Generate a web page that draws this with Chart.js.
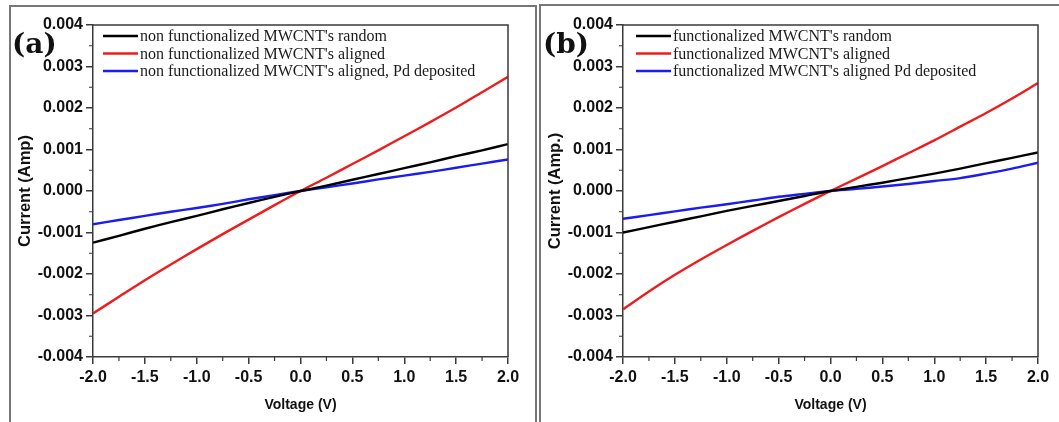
<!DOCTYPE html>
<html>
<head>
<meta charset="utf-8">
<script src="https://cdn.jsdelivr.net/npm/chart.js@4.4.1/dist/chart.umd.min.js"></script>
<style>
  html, body { margin: 0; padding: 0; background: #ffffff; }
  #wrap { position: relative; width: 1059px; height: 422px; overflow: hidden; }
  canvas { position: absolute; top: 0; }
  #ca { left: 0; }
  #cb { left: 537px; }
</style>
</head>
<body>
<div id="wrap">
  <canvas id="ca" width="537" height="422"></canvas>
  <canvas id="cb" width="522" height="422"></canvas>
</div>
<script>
// ---------- data ----------
const voltage = [-2, -1.75, -1.5, -1.25, -1, -0.75, -0.5, -0.25, 0, 0.25, 0.5, 0.75, 1, 1.25, 1.5, 1.75, 2];

// panel (a): non functionalized
const aLabels = [
  "non functionalized MWCNT's random",
  "non functionalized MWCNT's aligned",
  "non functionalized MWCNT's aligned, Pd deposited"
];
const aRandom  = [-0.001245, -0.00108, -0.00091, -0.00075, -0.0006, -0.00044, -0.00029, -0.00014, 0, 0.00013, 0.00027, 0.00041, 0.00055, 0.00069, 0.00084, 0.00098, 0.00113];
const aAligned = [-0.00295, -0.00255, -0.00215, -0.00177, -0.0014, -0.00104, -0.00069, -0.00034, 0, 0.00032, 0.00065, 0.00098, 0.00132, 0.00166, 0.00201, 0.00238, 0.00275];
const aPd      = [-0.0008, -0.0007, -0.0006, -0.0005, -0.00041, -0.00031, -0.0002, -0.0001, 0, 0.00009, 0.00018, 0.00028, 0.00037, 0.00046, 0.00056, 0.00066, 0.00076];

// panel (b): functionalized
const bLabels = [
  "functionalized MWCNT's random",
  "functionalized MWCNT's aligned",
  "functionalized MWCNT's aligned Pd deposited"
];
const bRandom  = [-0.001, -0.00087, -0.00074, -0.00061, -0.00048, -0.00036, -0.00024, -0.00012, 0, 0.0001, 0.0002, 0.00031, 0.00042, 0.00054, 0.00067, 0.0008, 0.00093];
const bAligned = [-0.00285, -0.00242, -0.00202, -0.00165, -0.0013, -0.00096, -0.00063, -0.00031, 0, 0.0003, 0.0006, 0.00091, 0.00122, 0.00155, 0.00188, 0.00223, 0.0026];
const bPd      = [-0.00067, -0.00058, -0.00049, -0.0004, -0.00032, -0.00023, -0.00014, -0.00007, 0, 0.00005, 0.00011, 0.00017, 0.00024, 0.00031, 0.00042, 0.00054, 0.00068];

const xTitle = "Voltage (V)";
const aYTitle = "Current (Amp)";
const bYTitle = "Current (Amp.)";
const seriesColors = ["#000000", "#ee1c1c", "#1c1cee"];

// ---------- helpers ----------
const AXIS_COLOR = "#3a3a3a";

function pts(ys) { return voltage.map((v, i) => ({ x: v, y: ys[i] })); }

function makeDatasets(labels, arrs) {
  return arrs.map((a, i) => ({
    label: labels[i],
    data: pts(a),
    borderColor: seriesColors[i],
    backgroundColor: seriesColors[i],
    borderWidth: 2.4,
    pointRadius: 0,
    tension: 0.3,
    fill: false
  }));
}

function decorPlugin(cfg) {
  return {
    id: 'decor',
    afterDraw(chart) {
      const ctx = chart.ctx;
      const ca = chart.chartArea;
      const xs = chart.scales.x, ys = chart.scales.y;
      ctx.save();
      // top & right of plot box
      ctx.strokeStyle = AXIS_COLOR;
      ctx.lineWidth = 1.5;
      ctx.beginPath();
      ctx.moveTo(ca.left, ca.top); ctx.lineTo(ca.right, ca.top); ctx.lineTo(ca.right, ca.bottom);
      ctx.stroke();
      // minor ticks
      ctx.lineWidth = 1.2;
      ctx.beginPath();
      const xt = xs.ticks.map(t => t.value);
      for (let i = 0; i < xt.length - 1; i++) {
        const px = xs.getPixelForValue((xt[i] + xt[i + 1]) / 2);
        ctx.moveTo(px, ca.bottom); ctx.lineTo(px, ca.bottom + 4);
      }
      const yt = ys.ticks.map(t => t.value);
      for (let i = 0; i < yt.length - 1; i++) {
        const py = ys.getPixelForValue((yt[i] + yt[i + 1]) / 2);
        ctx.moveTo(ca.left, py); ctx.lineTo(ca.left - 4, py);
      }
      ctx.stroke();
      // panel frame
      ctx.strokeStyle = "#777777";
      ctx.lineWidth = 2;
      ctx.beginPath();
      cfg.frame(ctx, chart.width, chart.height);
      ctx.stroke();
      // panel label
      ctx.fillStyle = "#111111";
      ctx.font = "bold 28px 'DejaVu Serif'";
      ctx.textBaseline = "middle";
      ctx.textAlign = "left";
      ctx.fillText(cfg.panel, cfg.panelX, 46);
      // legend
      ctx.font = "16px 'Liberation Serif'";
      chart.data.datasets.forEach((ds, i) => {
        const y = ca.top + 11 + i * 17.5;
        const x0 = ca.left + cfg.legOff;
        ctx.strokeStyle = ds.borderColor;
        ctx.lineWidth = 2.4;
        ctx.beginPath();
        ctx.moveTo(x0, y); ctx.lineTo(x0 + 35, y);
        ctx.stroke();
        ctx.fillStyle = "#1a1a1a";
        ctx.fillText(ds.label, x0 + 37, y + 1);
      });
      ctx.restore();
    }
  };
}

function makeChart(id, labels, arrs, yTitle, yWidth, padRight, yTitlePad, cfg) {
  return new Chart(document.getElementById(id), {
    type: 'line',
    data: { datasets: makeDatasets(labels, arrs) },
    options: {
      responsive: false,
      animation: false,
      devicePixelRatio: 1,
      layout: { padding: { left: 0, top: 25, right: padRight, bottom: 0 } },
      plugins: { legend: { display: false }, tooltip: { enabled: false } },
      scales: {
        x: {
          type: 'linear', min: -2, max: 2,
          afterFit(s) { s.height = 65; },
          ticks: {
            stepSize: 0.5,
            padding: 4,
            color: "#111111",
            font: { family: "'Liberation Sans', Arial, sans-serif", size: 16, weight: 'bold' },
            callback: v => (Math.abs(v) < 1e-9 ? 0 : v).toFixed(1),
            maxRotation: 0, autoSkip: false
          },
          grid: { display: true, drawOnChartArea: false, drawTicks: true, tickLength: 7, color: AXIS_COLOR, lineWidth: 1.5 },
          border: { display: true, color: AXIS_COLOR, width: 1.5 },
          title: {
            display: true, text: xTitle, color: "#111111",
            font: { family: "'Liberation Sans', Arial, sans-serif", size: 14, weight: 'bold' },
            padding: { top: 0, bottom: 8 }
          }
        },
        y: {
          type: 'linear', min: -0.004, max: 0.004,
          afterFit(s) { s.width = yWidth; },
          ticks: {
            stepSize: 0.001,
            padding: 3,
            color: "#111111",
            font: { family: "'Liberation Sans', Arial, sans-serif", size: 16, weight: 'bold' },
            callback: v => (Math.abs(v) < 1e-9 ? 0 : v).toFixed(3),
            autoSkip: false
          },
          grid: { display: true, drawOnChartArea: false, drawTicks: true, tickLength: 7, color: AXIS_COLOR, lineWidth: 1.5 },
          border: { display: true, color: AXIS_COLOR, width: 1.5 },
          title: {
            display: true, text: yTitle, color: "#111111",
            font: { family: "'Liberation Sans', Arial, sans-serif", size: 16.5, weight: 'bold' },
            padding: { top: yTitlePad, bottom: 0 }
          }
        }
      }
    },
    plugins: [decorPlugin(cfg)]
  });
}

makeChart('ca', aLabels, [aRandom, aAligned, aPd], aYTitle, 93, 29, 16, {
  panel: "(a)", panelX: 12, legOff: 10,
  frame(ctx, w, h) {
    ctx.moveTo(10, h + 2); ctx.lineTo(10, 6); ctx.lineTo(536, 6); ctx.lineTo(536, h + 2);
  }
});

makeChart('cb', bLabels, [bRandom, bAligned, bPd], bYTitle, 86, 21, 9, {
  panel: "(b)", panelX: 6, legOff: 13,
  frame(ctx, w, h) {
    ctx.moveTo(3, h + 2); ctx.lineTo(3, 5); ctx.lineTo(w + 2, 5);
  }
});
</script>
</body>
</html>
